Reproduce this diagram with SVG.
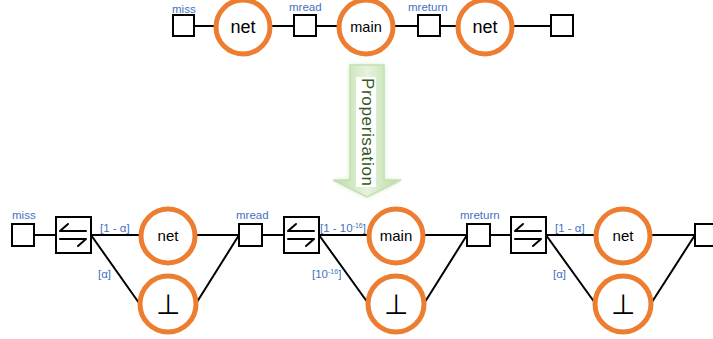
<svg xmlns="http://www.w3.org/2000/svg" width="713" height="339" viewBox="0 0 713 339">
<style>
.sq{fill:#fff;stroke:#000;stroke-width:2}
.ci{fill:#fff;stroke:#ed7d31;stroke-width:5}
.ln{stroke:#000;stroke-width:2;fill:none}
.lbl{font-family:"Liberation Sans",Arial,sans-serif;font-size:11.5px;fill:#4472c4}
.nt{font-family:"Liberation Sans",Arial,sans-serif;fill:#000;text-anchor:middle}
.hp{stroke:#000;stroke-width:2;fill:none;stroke-linecap:round}
</style>
<defs>
<filter id="glow" x="-30%" y="-10%" width="160%" height="120%"><feGaussianBlur stdDeviation="2.5"/></filter>
<linearGradient id="ag" x1="0" y1="0" x2="1" y2="0">
<stop offset="0" stop-color="#b9dba4"/><stop offset="0.5" stop-color="#e6f2dd"/><stop offset="1" stop-color="#b9dba4"/>
</linearGradient>
<g id="sw">
<rect class="sq" x="0" y="0" width="35" height="36"/>
<path class="hp" d="M4 14 H30 M4 14 L12 7 M4 22 H30 M30 22 L22 29"/>
</g>
</defs>

<g id="connectors">
<path class="ln" d="M194 26H215 M271 26H294 M316 26H338 M394 26H417 M440 26H458 M513 26H551"/>
<path class="ln" d="M34 235H56 M91 235H140 M91 235L139 303 M195 235H239 M197 302L239 235"/>
<path class="ln" d="M262 235H283 M319 235H368 M319 235L368 303 M424 235H467 M425 302L467 235"/>
<path class="ln" d="M490 235H511 M546 235H594 M546 235L595 303 M652 235H695 M652 302L695 235"/>
</g>

<g id="top-row">
<g id="t-miss"><rect class="sq" x="173" y="15" width="21" height="21"/><text class="lbl" x="172" y="13">miss</text></g>
<g id="t-net1"><circle class="ci" cx="243" cy="27" r="27"/><text class="nt" x="243" y="33" font-size="18">net</text></g>
<g id="t-mread"><rect class="sq" x="294" y="15" width="22" height="21"/><text class="lbl" x="289" y="11">mread</text></g>
<g id="t-main"><circle class="ci" cx="366" cy="27" r="27"/><text class="nt" x="366" y="32" font-size="14.5">main</text></g>
<g id="t-mreturn"><rect class="sq" x="418" y="15" width="22" height="21"/><text class="lbl" x="408" y="11">mreturn</text></g>
<g id="t-net2"><circle class="ci" cx="485" cy="27" r="27"/><text class="nt" x="485" y="33" font-size="18">net</text></g>
<g id="t-end"><rect class="sq" x="551" y="15" width="22" height="21"/></g>
</g>

<g id="arrow">
<polygon points="350,65 384,65 384,180 401,180 367,197 333,180 350,180" fill="#a9d18e" opacity="0.6" filter="url(#glow)"/>
<polygon points="350,65 384,65 384,180 401,180 367,197 333,180 350,180" fill="url(#ag)" stroke="#c5e0b4" stroke-width="1.5"/>
<rect x="356" y="77" width="20" height="110" fill="#fff"/>
<text transform="translate(362,78) rotate(90)" font-family="Liberation Sans,Arial,sans-serif" font-size="17" fill="#385723" textLength="108" lengthAdjust="spacing">Properisation</text>
</g>

<g id="b-miss"><rect class="sq" x="12" y="224" width="22" height="22"/><text class="lbl" x="12" y="219">miss</text></g>
<g id="b-sw1"><use href="#sw" x="56" y="217"/></g>
<g id="b-net1"><circle class="ci" cx="168" cy="236" r="27"/><text class="nt" x="168" y="241" font-size="15">net</text></g>
<g id="b-bot1"><circle class="ci" cx="168" cy="304" r="28"/><text class="nt" x="168" y="314" font-size="28">⊥</text></g>
<text class="lbl" x="100" y="232">[1 - α]</text>
<text class="lbl" x="98" y="278">[α]</text>

<g id="b-mread"><rect class="sq" x="239" y="224" width="23" height="22"/><text class="lbl" x="236" y="219">mread</text></g>
<g id="b-sw2"><use href="#sw" x="284" y="217"/></g>
<g id="b-main"><circle class="ci" cx="396" cy="236" r="27"/><text class="nt" x="396" y="241" font-size="15">main</text></g>
<g id="b-bot2"><circle class="ci" cx="396" cy="304" r="28"/><text class="nt" x="396" y="314" font-size="28">⊥</text></g>
<text class="lbl" x="320" y="232">[1 - 10<tspan font-size="7" dy="-4">-16</tspan><tspan dy="4">]</tspan></text>
<text class="lbl" x="312" y="278">[10<tspan font-size="7" dy="-4">-16</tspan><tspan dy="4">]</tspan></text>

<g id="b-mreturn"><rect class="sq" x="467" y="224" width="23" height="22"/><text class="lbl" x="460" y="219">mreturn</text></g>
<g id="b-sw3"><use href="#sw" x="511" y="217"/></g>
<g id="b-net3"><circle class="ci" cx="623" cy="236" r="27"/><text class="nt" x="623" y="241" font-size="15">net</text></g>
<g id="b-bot3"><circle class="ci" cx="623" cy="304" r="28"/><text class="nt" x="623" y="314" font-size="28">⊥</text></g>
<text class="lbl" x="555" y="232">[1 - α]</text>
<text class="lbl" x="553" y="278">[α]</text>

<g id="b-end"><rect class="sq" x="695" y="224" width="22" height="22"/></g>
</svg>
